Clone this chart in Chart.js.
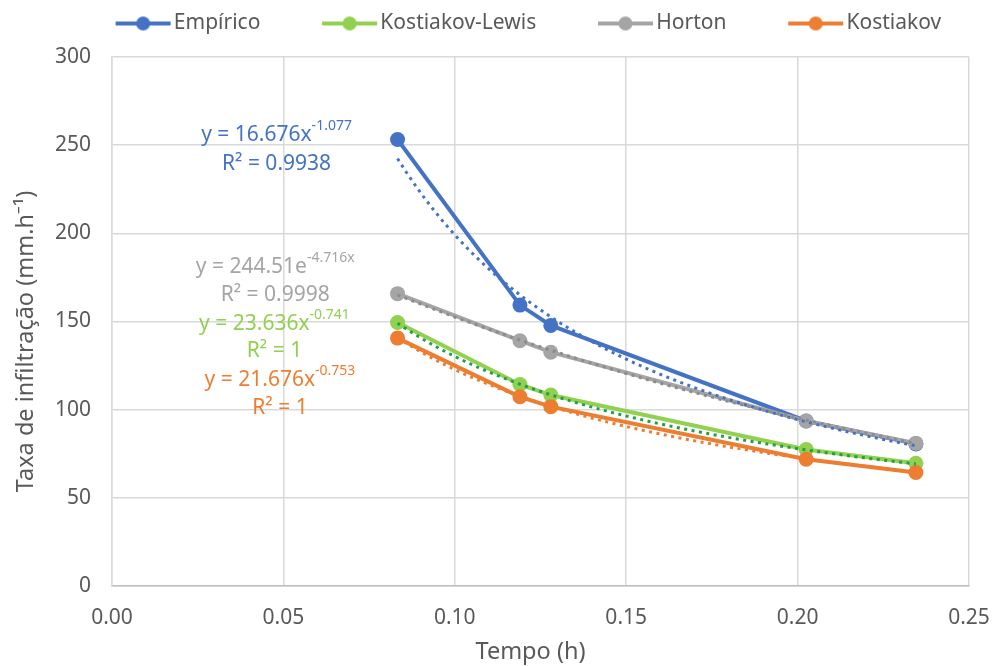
<!DOCTYPE html>
<html>
<head>
<meta charset="utf-8">
<script src="https://cdn.jsdelivr.net/npm/chart.js@4/dist/chart.umd.min.js"></script>
<style>
  html, body { margin: 0; padding: 0; background: #ffffff; }
  #wrap { width: 994px; height: 666px; position: relative; }
</style>
</head>
<body>
<div id="wrap"><canvas id="chart"></canvas></div>
<script>
// Infiltration rate over time: measured values and three fitted models
const seriesNames = ['Empírico', 'Kostiakov-Lewis', 'Horton', 'Kostiakov'];
const tempo = [0.0833, 0.119, 0.128, 0.2025, 0.2345];
const empirico = [253.2, 159.3, 147.8, 93.6, 80.6];
const kostiakovLewis = [149.4, 114.3, 108.3, 77.4, 69.6];
const horton = [165.8, 139.1, 132.6, 93.6, 81.0];
const kostiakov = [140.6, 107.3, 101.7, 71.9, 64.4];
const xTickValues = [0, 0.05, 0.10, 0.15, 0.20, 0.25];
const yTickValues = [0, 50, 100, 150, 200, 250, 300];
const xTitle = 'Tempo (h)';
const yTitle = 'Taxa de infiltração (mm.h⁻¹)';

// Trend equations shown next to the curves (one per series)
const fitKind = ['power', 'power', 'exp', 'power'];
const fitCoefA = ['16.676', '23.636', '244.51', '21.676'];
const fitCoefB = ['-1.077', '-0.741', '-4.716', '-0.753'];
const fitR2 = ['0.9938', '1', '0.9998', '1'];

const seriesValues = [empirico, kostiakovLewis, horton, kostiakov];
const seriesColors = ['#4472C4', '#92D050', '#A5A5A5', '#ED7D31'];
const trendColors = ['#4472C4', '#1FA046', '#8C8C8C', '#ED7D31'];
const labelColors = ['#4472C4', '#92D050', '#A5A5A5', '#ED7D31'];
const seriesOrder = [4, 3, 2, 1];
// label anchor (in data units): x, y of equation line, y of R² line
const fitLabelPos = [
  [0.0480, 256.0, 239.5],
  [0.0474, 148.8, 133.0],
  [0.0476, 181.0, 165.3],
  [0.0490, 117.0, 100.7]
];

const FONT = "'Noto Sans', sans-serif";
const TEXT = '#595959';

function evalFit(i, x) {
  const a = parseFloat(fitCoefA[i]);
  const b = parseFloat(fitCoefB[i]);
  return fitKind[i] === 'exp' ? a * Math.exp(b * x) : a * Math.pow(x, b);
}

function trendPoints(i) {
  const x0 = tempo[0], x1 = tempo[tempo.length - 1];
  const n = 60, pts = [];
  for (let k = 0; k <= n; k++) {
    const x = x0 + (x1 - x0) * k / n;
    pts.push({ x, y: evalFit(i, x) });
  }
  return pts;
}

// legend swatch: short line with a round marker in the middle
function legendSwatch(color) {
  const c = document.createElement('canvas');
  c.width = 116; c.height = 18;
  const g = c.getContext('2d');
  g.strokeStyle = color; g.lineWidth = 4;
  g.beginPath(); g.moveTo(60, 9); g.lineTo(115, 9); g.stroke();
  g.fillStyle = color;
  g.beginPath(); g.arc(87.5, 9, 7, 0, Math.PI * 2); g.fill();
  return c;
}
const swatches = seriesColors.map(legendSwatch);

const datasets = [];
seriesNames.forEach((name, i) => {
  datasets.push({
    label: name,
    data: tempo.map((t, k) => ({ x: t, y: seriesValues[i][k] })),
    showLine: true,
    borderColor: seriesColors[i],
    backgroundColor: seriesColors[i],
    borderWidth: 4,
    pointRadius: 7.5,
    pointBorderWidth: 0,
    pointBackgroundColor: seriesColors[i],
    order: seriesOrder[i]
  });
});
seriesNames.forEach((name, i) => {
  datasets.push({
    label: name + ' (ajuste)',
    data: trendPoints(i),
    showLine: true,
    borderColor: trendColors[i],
    borderWidth: 3,
    borderDash: [3, 4.5],
    pointRadius: 0,
    order: 0
  });
});

function drawEquation(ctx, cx, cy, base, sup, color) {
  ctx.save();
  ctx.textBaseline = 'middle';
  ctx.textAlign = 'left';
  ctx.font = '21px ' + FONT;
  const wb = ctx.measureText(base).width;
  ctx.font = '14px ' + FONT;
  const ws = sup ? ctx.measureText(sup).width : 0;
  const x = cx - (wb + ws) / 2;
  ctx.fillStyle = color;
  ctx.font = '21px ' + FONT;
  ctx.fillText(base, x, cy);
  if (sup) {
    ctx.font = '14px ' + FONT;
    ctx.fillText(sup, x + wb, cy - 9);
  }
  ctx.restore();
}

const fitLabels = {
  id: 'fitLabels',
  afterDatasetsDraw(chart) {
    const ctx = chart.ctx;
    const xs = chart.scales.x, ys = chart.scales.y;
    seriesNames.forEach((_, i) => {
      const [lx, ly1, ly2] = fitLabelPos[i];
      const cx = xs.getPixelForValue(lx);
      let base, sup;
      if (fitKind[i] === 'exp') { base = 'y = ' + fitCoefA[i] + 'e'; sup = fitCoefB[i] + 'x'; }
      else { base = 'y = ' + fitCoefA[i] + 'x'; sup = fitCoefB[i]; }
      drawEquation(ctx, cx, ys.getPixelForValue(ly1), base, sup, labelColors[i]);
      drawEquation(ctx, cx, ys.getPixelForValue(ly2), 'R² = ' + fitR2[i], '', labelColors[i]);
    });
  }
};

// axis titles, placed relative to the plot area
const axisTitles = {
  id: 'axisTitles',
  afterDraw(chart) {
    const ctx = chart.ctx, a = chart.chartArea;
    ctx.save();
    ctx.fillStyle = TEXT;
    ctx.font = '23.5px ' + FONT;
    ctx.textAlign = 'center';
    ctx.textBaseline = 'middle';
    ctx.fillText(xTitle, (a.left + a.right) / 2 - 10, a.bottom + 66);
    ctx.translate(26, (a.top + a.bottom) / 2 + 20);
    ctx.rotate(-Math.PI / 2);
    ctx.fillText(yTitle, 0, 0);
    ctx.restore();
  }
};

Chart.defaults.font.family = FONT;
Chart.defaults.font.size = 21;
Chart.defaults.color = TEXT;

new Chart(document.getElementById('chart'), {
  type: 'scatter',
  data: { datasets },
  options: {
    responsive: true,
    maintainAspectRatio: false,
    animation: false,
    layout: { padding: { left: 36, right: 25, top: 3, bottom: 0 } },
    plugins: {
      tooltip: { enabled: false },
      legend: {
        position: 'top',
        labels: {
          usePointStyle: true,
          pointStyleWidth: 99.5,
          padding: 10,
          color: TEXT,
          font: { size: 21, family: FONT },
          generateLabels(chart) {
            return seriesNames.map((name, i) => ({
              text: name,
              pointStyle: swatches[i],
              fillStyle: seriesColors[i],
              strokeStyle: seriesColors[i],
              lineWidth: 0,
              hidden: false,
              datasetIndex: i,
              fontColor: TEXT
            }));
          }
        }
      }
    },
    scales: {
      x: {
        type: 'linear',
        position: 'bottom',
        min: 0, max: 0.25,
        afterBuildTicks(s) { s.ticks = xTickValues.map(v => ({ value: v })); },
        afterFit(s) { s.height = 80; s.paddingLeft = 0; s.paddingRight = 0; },
        ticks: { padding: 19, color: TEXT, callback: v => v.toFixed(2) },
        grid: { color: '#D9D9D9', lineWidth: 1.5, drawTicks: false },
        border: { color: '#BFBFBF', width: 1.5 }
      },
      y: {
        type: 'linear',
        position: 'left',
        min: 0, max: 300,
        afterBuildTicks(s) { s.ticks = yTickValues.map(v => ({ value: v })); },
        afterFit(s) { s.width = 76; s.paddingTop = 0; s.paddingBottom = 0; },
        ticks: { padding: 21, color: TEXT },
        grid: { color: '#D9D9D9', lineWidth: 1.5, drawTicks: false },
        border: { color: '#D9D9D9', width: 1.5 }
      },
      xTop: {
        type: 'linear', axis: 'x', position: 'top',
        ticks: { display: false }, grid: { display: false }, border: { display: false },
        afterFit(s) { s.height = 13; }
      }
    }
  },
  plugins: [fitLabels, axisTitles]
});
</script>
</body>
</html>
